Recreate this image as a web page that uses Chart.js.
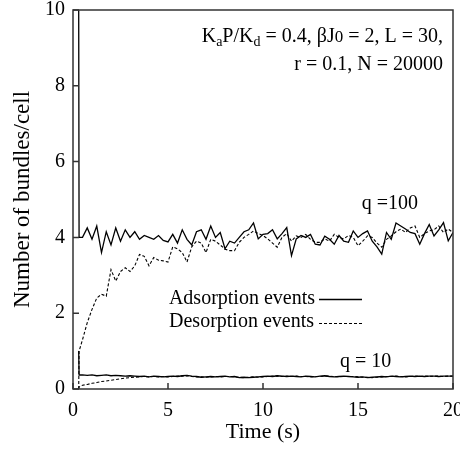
<!DOCTYPE html>
<html>
<head>
<meta charset="utf-8">
<script src="https://cdn.jsdelivr.net/npm/chart.js@4"></script>
<style>
  html, body { margin: 0; padding: 0; background: #fff; }
</style>
</head>
<body>
<canvas id="myChart" width="460" height="450"></canvas>
<script>
// sample times (s), shared by all four curves
const time = [0.3, 0.32,
  0.5, 0.75, 1, 1.25, 1.5, 1.75, 2, 2.25, 2.5, 2.75, 3, 3.25, 3.5, 3.75, 4, 4.25,
  4.5, 4.75, 5, 5.25, 5.5, 5.75, 6, 6.25, 6.5, 6.75, 7, 7.25, 7.5, 7.75, 8, 8.25,
  8.5, 8.75, 9, 9.25, 9.5, 9.75, 10, 10.25, 10.5, 10.75, 11, 11.25, 11.5, 11.75, 12, 12.25,
  12.5, 12.75, 13, 13.25, 13.5, 13.75, 14, 14.25, 14.5, 14.75, 15, 15.25, 15.5, 15.75, 16, 16.25,
  16.5, 16.75, 17, 17.25, 17.5, 17.75, 18, 18.25, 18.5, 18.75, 19, 19.25, 19.5, 19.75, 20];

// q = 100
const adsorption100 = [10, 4.0,
  4.0, 4.25, 3.95, 4.3,   3.6, 4.15, 3.8, 4.25,   3.9, 4.2, 4.0, 4.15,   3.95, 4.05, 4.0, 3.95,
  4.05, 3.92, 3.88, 4.08, 3.85, 4.2, 3.95, 3.8,   4.15, 4.2, 3.95, 4.3,   4.0, 4.13, 3.7, 3.9,
  3.85, 4.0, 4.15, 4.2,   4.38, 3.96, 4.08, 4.1,  4.2, 3.96, 4.1, 4.26,   3.52, 3.96, 4.05, 4.0,
  4.08, 3.82, 3.8, 4.03,  3.95, 3.82, 4.05, 3.9,  3.87, 4.17, 4.0, 4.1,   4.17, 3.9, 3.75, 3.56,
  4.13, 3.95, 4.38, 4.3,  4.22, 4.13, 4.1, 3.82,  4.1, 4.34, 4.04, 4.2,   4.39, 3.91, 4.13];
const desorption100 = [0, 1.0,
  1.3, 1.75, 2.1, 2.4,    2.5, 2.45, 3.15, 2.85,  3.1, 3.2, 3.1, 3.25,    3.55, 3.5, 3.25, 3.47,
  3.4, 3.38, 3.35, 3.75,  3.7, 3.6, 3.35, 3.75,   3.9, 3.85, 3.6, 3.95,   3.9, 3.8, 3.69, 3.65,
  3.65, 3.87, 4.0, 4.08,  4.17, 4.1, 4.05, 3.96,  3.85, 3.74, 4.0, 4.1,   3.9, 4.04, 4.0, 4.08,
  3.95, 3.87, 3.87, 3.96, 3.9, 4.08, 4.0, 3.96,   4.05, 4.0, 3.78, 3.9,   4.04, 4.0, 3.85, 3.74,
  3.95, 4.04, 4.15, 4.22, 4.13, 4.25, 4.3, 4.0,   4.1, 4.17, 4.2, 4.3,    4.13, 4.22, 4.13];

// q = 10
const adsorption10 = [1.0, 0.37,
  0.37, 0.36, 0.37, 0.35, 0.36, 0.37, 0.35, 0.36, 0.35, 0.34, 0.35, 0.34, 0.33, 0.34, 0.32, 0.34,
  0.33, 0.32, 0.33, 0.34, 0.33, 0.35, 0.36, 0.34, 0.33, 0.31, 0.32, 0.33, 0.32, 0.33, 0.34, 0.32,
  0.33, 0.30, 0.31, 0.30, 0.31, 0.32, 0.33, 0.34, 0.33, 0.35, 0.34, 0.33, 0.34, 0.33, 0.32, 0.34,
  0.33, 0.32, 0.34, 0.35, 0.33, 0.32, 0.33, 0.34, 0.33, 0.32, 0.31, 0.32, 0.30, 0.31, 0.32, 0.33,
  0.32, 0.34, 0.33, 0.32, 0.33, 0.34, 0.33, 0.34, 0.33, 0.34, 0.34, 0.33, 0.34, 0.34, 0.34];
const desorption10 = [0, 0.05,
  0.1, 0.12, 0.15, 0.17,  0.2, 0.21, 0.23, 0.25,  0.27, 0.29, 0.3, 0.31,  0.32, 0.33, 0.32, 0.33,
  0.32, 0.33, 0.32, 0.33, 0.34, 0.34, 0.35, 0.33, 0.32, 0.32, 0.31, 0.32, 0.33, 0.32, 0.33, 0.33,
  0.32, 0.31, 0.30, 0.31, 0.32, 0.31, 0.32, 0.33, 0.34, 0.34, 0.33, 0.34, 0.33, 0.34, 0.33, 0.33,
  0.32, 0.33, 0.33, 0.34, 0.34, 0.33, 0.32, 0.33, 0.33, 0.33, 0.32, 0.31, 0.31, 0.30, 0.31, 0.32,
  0.33, 0.33, 0.34, 0.33, 0.32, 0.33, 0.34, 0.33, 0.34, 0.33, 0.34, 0.34, 0.33, 0.34, 0.34];

const xTicks = [0, 5, 10, 15, 20];
const yTicks = [0, 2, 4, 6, 8, 10];

const serif = "'Liberation Serif', 'Times New Roman', serif";
const toPoints = (vals) => time.map((t, i) => ({ x: t, y: vals[i] }));

const solid = { borderColor: "#000", borderWidth: 1.3, pointRadius: 0, tension: 0, fill: false };
const dashed = { borderColor: "#000", borderWidth: 1.1, borderDash: [3, 2], pointRadius: 0, tension: 0, fill: false };

// draw text runs (with subscripts) right-aligned at xr
function drawRuns(ctx, runs, xr, yb) {
  let w = 0;
  runs.forEach(r => { ctx.font = r[1] + "px " + serif; w += ctx.measureText(r[0]).width; });
  let x = xr - w;
  runs.forEach(r => {
    ctx.font = r[1] + "px " + serif;
    ctx.fillText(r[0], x, yb + (r[2] || 0));
    x += ctx.measureText(r[0]).width;
  });
}

// box frame, inward ticks, labels and legend
const decorations = {
  id: "decorations",
  afterDatasetsDraw(chart) {
    const { ctx, chartArea: a, scales: { x, y } } = chart;
    ctx.save();
    ctx.strokeStyle = "#333";
    ctx.lineWidth = 1.5;
    ctx.strokeRect(a.left, a.top, a.right - a.left, a.bottom - a.top);
    ctx.beginPath();
    xTicks.forEach(v => { const px = x.getPixelForValue(v); ctx.moveTo(px, a.bottom); ctx.lineTo(px, a.bottom - 6); });
    yTicks.forEach(v => { const py = y.getPixelForValue(v); ctx.moveTo(a.left, py); ctx.lineTo(a.left + 6, py); });
    ctx.stroke();

    ctx.fillStyle = "#000";
    ctx.textBaseline = "alphabetic";
    drawRuns(ctx, [["K", 20], ["a", 14, 4], ["P/K", 20], ["d", 14, 4], [" = 0.4, \u03B2J", 20], ["0", 17], [" = 2, L = 30,", 20]],
      a.right - 10, a.top + 32);
    drawRuns(ctx, [["r = 0.1, N = 20000", 20]], a.right - 10, a.top + 60);

    ctx.font = "20px " + serif;
    ctx.textAlign = "left";
    ctx.fillText("q =100", x.getPixelForValue(15.2), y.getPixelForValue(4.76));
    ctx.fillText("q = 10", x.getPixelForValue(14.05), y.getPixelForValue(0.58));

    // legend
    ctx.textAlign = "right";
    ctx.fillText("Adsorption events", 315, 304);
    ctx.fillText("Desorption events", 314, 327);
    ctx.strokeStyle = "#000";
    ctx.lineWidth = 1.3;
    ctx.beginPath(); ctx.moveTo(319, 299.5); ctx.lineTo(362, 299.5); ctx.stroke();
    ctx.lineWidth = 1.1;
    ctx.setLineDash([3, 2]);
    ctx.beginPath(); ctx.moveTo(319, 323.5); ctx.lineTo(362, 323.5); ctx.stroke();
    ctx.restore();
  }
};

new Chart(document.getElementById("myChart").getContext("2d"), {
  type: "line",
  data: {
    datasets: [
      { label: "Adsorption events (q=100)", data: toPoints(adsorption100), ...solid },
      { label: "Desorption events (q=100)", data: toPoints(desorption100), ...dashed },
      { label: "Adsorption events (q=10)", data: toPoints(adsorption10), ...solid },
      { label: "Desorption events (q=10)", data: toPoints(desorption10), ...dashed }
    ]
  },
  options: {
    responsive: false,
    animation: false,
    devicePixelRatio: 1,
    layout: { padding: { top: 10, right: 7, left: 5, bottom: 1 } },
    plugins: { legend: { display: false }, tooltip: { enabled: false } },
    scales: {
      x: {
        type: "linear", min: 0, max: 20,
        afterFit: (s) => { s.height = 60; s.paddingLeft = 0; s.paddingRight = 0; },
        afterBuildTicks: (s) => { s.ticks = xTicks.map(v => ({ value: v })); },
        grid: { display: false, drawTicks: false }, border: { display: false },
        ticks: { color: "#000", font: { family: serif, size: 20 }, padding: 10, maxRotation: 0 },
        title: { display: true, text: "Time (s)", color: "#000", font: { family: serif, size: 22 } }
      },
      y: {
        min: 0, max: 10,
        afterFit: (s) => { s.width = 68; s.paddingTop = 0; s.paddingBottom = 0; },
        afterBuildTicks: (s) => { s.ticks = yTicks.map(v => ({ value: v })); },
        grid: { display: false, drawTicks: false }, border: { display: false },
        ticks: { color: "#000", font: { family: serif, size: 20 }, padding: 8 },
        title: { display: true, text: "Number of bundles/cell", color: "#000", font: { family: serif, size: 23 } }
      }
    }
  },
  plugins: [decorations]
});
</script>
</body>
</html>
